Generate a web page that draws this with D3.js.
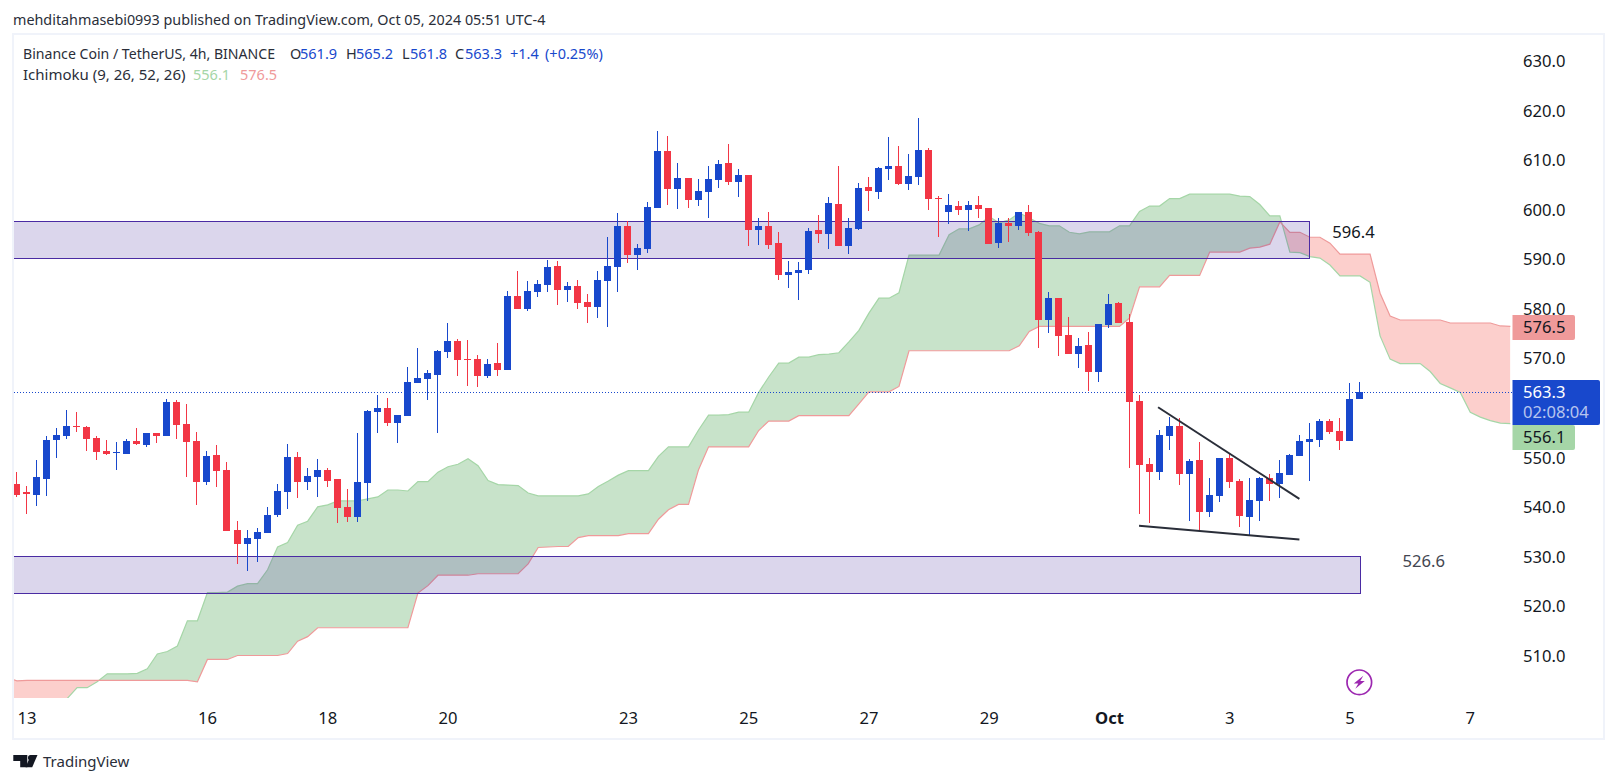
<!DOCTYPE html>
<html><head><meta charset="utf-8">
<script src="https://cdnjs.cloudflare.com/ajax/libs/d3/7.8.5/d3.min.js"></script>
<style>html,body{margin:0;padding:0;background:#fff}svg{display:block}
text{font-family:"Noto Sans",sans-serif}</style></head><body><svg id="c" width="1617" height="783"></svg>
<script>
const open=[544.8,543.0,542.5,545.8,553.6,554.4,556.5,556.3,554.0,551.4,551.1,550.8,553.4,552.6,555.0,554.4,561.3,556.9,553.4,545.2,550.6,547.6,535.5,532.7,533.7,534.9,538.5,543.0,550.2,545.2,546.2,547.6,545.8,540.1,538.1,545.0,559.3,560.1,557.1,558.5,565.1,565.9,566.7,571.4,573.6,570.0,570.0,566.5,569.2,567.7,582.7,580.0,583.5,584.9,588.7,583.9,584.7,581.4,580.4,585.7,588.5,596.8,590.9,592.1,600.4,611.9,604.2,606.5,602.0,603.6,606.1,609.5,605.7,607.1,596.0,596.8,593.3,586.9,587.3,587.9,596.0,595.2,601.2,592.7,596.2,604.6,603.6,608.3,608.9,605.2,606.7,612.1,602.4,599.6,600.8,600.0,601.0,600.4,593.3,597.4,596.8,599.6,595.6,577.8,582.3,574.8,571.0,572.8,567.3,576.8,581.3,577.4,561.5,548.8,547.2,554.4,556.5,546.8,549.6,539.1,542.3,550.0,545.4,538.1,541.3,546.0,544.8,546.6,550.4,553.2,553.6,557.5,555.4,553.4,561.9];
const high=[547.2,544.4,549.6,554.4,556.1,559.7,559.3,556.5,554.4,553.6,553.2,553.8,556.1,555.0,555.0,561.9,561.7,560.9,555.2,551.4,552.6,549.2,537.3,535.5,535.9,540.1,544.8,552.8,551.2,548.0,549.8,548.0,545.8,543.8,555.0,559.7,562.7,562.1,558.7,568.3,572.2,567.7,571.8,577.2,574.0,573.8,570.8,570.0,573.2,583.7,587.7,585.7,585.9,589.9,589.7,585.5,585.9,583.1,587.7,594.6,599.4,597.8,593.2,601.6,615.9,614.9,609.5,606.5,606.3,608.9,610.1,613.3,608.3,607.1,598.4,599.6,595.6,589.7,589.5,596.4,599.0,602.6,608.9,598.4,605.4,606.7,608.7,614.7,612.9,611.3,618.6,612.5,602.8,603.2,601.8,601.8,602.8,600.4,598.4,598.4,599.6,601.0,595.8,583.5,582.3,578.4,574.2,575.4,577.0,583.1,581.5,579.0,562.7,550.0,555.6,558.3,558.1,549.8,553.2,546.0,550.0,550.8,545.8,546.0,546.2,546.8,549.6,550.8,554.6,557.1,557.9,557.9,558.1,565.1,565.2];
const low=[542.1,538.7,540.3,542.3,550.0,553.8,555.2,551.4,549.6,550.6,547.6,550.8,552.6,552.2,553.0,554.4,553.8,546.2,540.5,544.6,544.2,535.3,528.6,527.2,529.0,534.9,538.1,539.7,541.9,543.5,542.1,544.2,536.9,537.1,537.1,541.3,555.0,556.5,553.0,558.5,565.1,561.7,555.0,570.2,566.5,564.5,564.3,566.1,566.5,567.7,580.0,579.6,582.5,583.5,580.8,581.4,580.0,577.2,578.2,576.4,583.5,589.3,587.9,591.3,600.4,601.0,600.2,600.4,600.8,598.4,604.4,605.0,602.6,592.7,592.9,592.1,585.9,584.3,581.9,587.1,593.3,592.1,592.7,591.1,596.0,599.8,602.2,606.1,605.0,604.0,605.0,600.0,594.6,597.2,599.0,595.8,598.4,593.2,592.3,593.6,596.0,594.8,572.2,575.2,570.6,571.0,568.1,563.5,565.3,576.2,577.2,548.0,538.7,536.9,545.6,551.6,544.6,537.3,535.5,538.1,541.1,544.0,536.1,534.5,537.3,541.3,541.9,546.6,550.4,545.4,552.2,554.8,551.6,553.4,561.8];
const close=[542.5,542.7,546.2,553.6,554.6,556.5,556.3,553.8,551.2,550.8,551.2,553.4,552.8,555.0,554.4,561.3,556.7,553.2,545.2,550.4,547.4,535.3,532.7,533.9,535.1,538.5,543.2,550.2,545.2,546.4,547.6,545.4,539.9,538.1,545.2,559.5,560.1,557.1,558.7,565.3,566.1,567.1,571.6,573.6,569.8,569.8,566.5,568.9,567.7,582.7,580.0,583.7,585.1,588.5,583.9,584.7,581.2,580.4,585.9,588.7,596.8,590.9,592.3,600.6,611.9,604.2,606.5,602.0,603.8,606.3,609.3,605.7,607.1,596.0,596.8,592.9,586.9,587.5,587.9,595.8,595.2,601.4,592.7,596.4,604.4,603.8,608.5,608.9,605.2,606.9,612.1,602.2,602.2,601.0,600.0,601.0,600.2,593.2,597.4,596.8,599.6,595.4,577.8,582.3,574.6,571.0,572.6,567.3,577.0,581.0,577.2,561.3,548.6,547.2,554.6,556.5,546.8,549.4,539.1,542.5,550.0,545.2,538.3,541.5,546.0,544.8,547.0,550.6,553.4,553.8,557.5,555.2,553.4,561.9,563.3];

// Ichimoku leading spans, one value per bar, first value is the bar before the first candle
const spanA=[499.0,499.0,499.0,499.5,500.0,500.5,501.4,503.6,503.6,504.8,506.4,506.4,506.4,506.5,507.4,510.4,510.9,512.0,517.1,517.1,522.8,522.8,522.9,524.1,524.6,524.6,527.4,532.0,532.9,536.4,537.2,540.1,540.5,541.3,541.3,541.3,541.7,542.1,543.5,543.5,543.3,545.2,545.2,547.1,548.2,548.7,549.8,548.4,545.4,544.6,544.5,544.4,542.9,542.3,542.3,542.3,542.3,542.3,542.7,544.2,545.3,546.5,547.4,547.4,547.4,550.3,552.2,552.2,552.2,555.6,558.6,558.6,558.7,559.2,559.2,563.2,566.3,569.1,569.1,570.3,570.3,570.8,570.9,571.2,573.4,575.7,579.2,582.2,582.2,583.3,590.9,590.9,590.9,590.9,595.0,596.2,596.2,597.0,598.7,597.4,598.0,599.4,598.4,597.3,596.8,596.8,595.5,595.2,595.6,595.6,595.6,596.8,596.8,599.7,600.8,600.8,602.3,602.3,603.2,603.2,603.2,603.2,603.2,602.8,602.7,601.1,598.8,598.8,591.5,591.4,590.6,590.3,588.9,586.7,586.7,586.7,585.4,574.6,569.9,569.0,569.0,569.0,567.4,565.0,564.1,563.2,559.2,558.2,557.5,557.0,556.9];
const spanB=[505.6,505.0,505.1,505.1,505.1,505.1,505.1,505.1,505.1,505.1,505.1,505.1,505.1,505.1,505.1,505.1,505.1,505.1,505.1,504.8,509.3,509.3,509.3,510.1,510.1,510.1,510.1,510.1,510.5,513.0,513.9,515.7,515.7,515.7,515.7,515.7,515.7,515.7,515.7,515.7,515.7,522.7,524.2,526.3,526.3,526.3,526.3,526.6,526.6,526.6,526.6,526.6,528.6,531.9,532.0,532.1,532.1,533.9,534.3,534.3,534.3,534.3,534.7,534.7,534.7,537.6,539.5,540.6,540.6,547.6,552.2,552.2,552.2,552.2,552.2,555.5,557.4,557.4,557.4,558.5,558.5,558.5,558.5,558.5,558.5,560.9,563.3,563.3,563.3,564.4,571.6,571.6,571.6,571.6,571.6,571.6,571.6,571.6,571.6,571.6,571.6,572.6,575.5,576.5,576.5,576.5,576.5,576.5,576.5,576.5,576.5,576.5,578.2,584.5,584.5,584.5,586.8,586.8,586.8,586.8,591.5,591.5,591.5,591.5,592.3,592.5,593.1,597.6,595.5,595.5,594.5,594.5,593.3,591.1,591.1,591.1,591.1,583.2,578.6,577.8,577.8,577.8,577.8,577.8,577.2,577.2,577.2,577.2,577.2,576.6,576.5];
const firstSpanBar=-1;

const priceTicks=[510,520,530,540,550,570,580,590,600,610,620,630];
const timeBars=[1,19,31,43,61,73,85,97,109,121,133,145];
const timeLabels=["13","16","18","20","23","25","27","29","Oct","3","5","7"];
const zones=[{from:-2,to:129,hi:597.8,lo:590.4},{from:-2,to:134,hi:530.2,lo:522.8}];
const trendLines=[[[113.9,560.2],[128,541.7]],[[112,536.3],[128,533.5]]];
const notes=[{bar:133.4,price:595.5,text:"596.4",fill:"#131722"},{bar:140.4,price:529.1,text:"526.6",fill:"#434651"}];
const lastPrice=563.3, spanALast=556.1, spanBLast=576.5;

const BLUE="#1848cc",RED="#f23645",GRN="#a5d6a7",PNK="#ef9a9a",INK="#131722";
const FONT='"Noto Sans",sans-serif';
const AX=16.6;
const svg=d3.select("#c");
const paneR=1512,paneT=35,paneB=698,paneL=14;
const x=d3.scaleLinear().domain([0,134]).range([16.51,1359.53]);
const y=d3.scaleLinear().domain([600,510]).range([210,656]);

const defs=svg.append("defs");
defs.append("clipPath").attr("id","pane").append("rect").attr("x",paneL).attr("y",paneT).attr("width",paneR-paneL).attr("height",paneB-paneT);
const cloud=spanA.map((a,k)=>({bar:k+firstSpanBar,a,b:spanB[k]}));
const X=d=>x(d.bar)+.5;
defs.append("clipPath").attr("id","aboveB").append("path").attr("d",d3.area().x(X).y0(0).y1(d=>y(d.b))(cloud));
defs.append("clipPath").attr("id","belowB").append("path").attr("d",d3.area().x(X).y0(783).y1(d=>y(d.b))(cloud));

// frame
svg.append("rect").attr("x",13).attr("y",34).attr("width",1591).attr("height",705).attr("fill","none").attr("stroke","#f0f3fa").attr("stroke-width",2);

const pane=svg.append("g").attr("clip-path","url(#pane)");
const between=d3.area().x(X).y0(d=>y(d.a)).y1(d=>y(d.b));
pane.append("g").attr("clip-path","url(#aboveB)").append("path").attr("d",between(cloud)).attr("fill","#c8e3ca");
pane.append("g").attr("clip-path","url(#belowB)").append("path").attr("d",between(cloud)).attr("fill","#fccfcc");
pane.append("path").attr("d",d3.line().x(X).y(d=>y(d.a))(cloud)).attr("fill","none").attr("stroke",GRN).attr("stroke-width",1.2);
pane.append("path").attr("d",d3.line().x(X).y(d=>y(d.b))(cloud)).attr("fill","none").attr("stroke",PNK).attr("stroke-width",1.2);

// zones
pane.selectAll("rect.zone").data(zones).join("rect").attr("class","zone")
 .attr("x",d=>x(d.from)).attr("width",d=>Math.round(x(d.to))-x(d.from)+.5)
 .attr("y",d=>Math.round(y(d.hi))+.5).attr("height",d=>Math.round(y(d.lo))-Math.round(y(d.hi)))
 .attr("fill","rgba(75,50,160,.2)").attr("stroke","#4a2ba3").attr("stroke-width",1);

// last price line
pane.append("line").attr("x1",paneL).attr("x2",paneR).attr("y1",Math.round(y(lastPrice))+.5).attr("y2",Math.round(y(lastPrice))+.5)
 .attr("stroke",BLUE).attr("stroke-dasharray","1 2");

// candles
const bars=d3.range(open.length);
const col=i=>close[i]>=open[i]?BLUE:RED;
const gc=pane.append("g").attr("shape-rendering","crispEdges");
gc.selectAll("rect.w").data(bars).join("rect").attr("class","w")
 .attr("x",i=>Math.floor(x(i))).attr("width",1)
 .attr("y",i=>Math.round(y(high[i]))).attr("height",i=>Math.max(1,Math.round(y(low[i]))-Math.round(y(high[i]))))
 .attr("fill",col);
gc.selectAll("rect.b").data(bars).join("rect").attr("class","b")
 .attr("x",i=>Math.floor(x(i))-3).attr("width",7)
 .attr("y",i=>Math.round(y(Math.max(open[i],close[i]))))
 .attr("height",i=>Math.max(1,Math.round(y(Math.min(open[i],close[i])))-Math.round(y(Math.max(open[i],close[i])))))
 .attr("fill",col);

// trend lines
pane.selectAll("path.t").data(trendLines).join("path").attr("class","t")
 .attr("d",d3.line().x(d=>x(d[0])).y(d=>y(d[1]))).attr("stroke","#2a2e39").attr("stroke-width",2).attr("fill","none");

// notes
svg.selectAll("text.n").data(notes).join("text").attr("class","n")
 .attr("x",d=>x(d.bar)).attr("y",d=>y(d.price)).attr("text-anchor","middle").attr("dy",".36em")
 .attr("font-size",AX).attr("fill",d=>d.fill).text(d=>d.text);

// axes
const ax=svg.append("g").attr("transform","translate(1523,0)").call(d3.axisRight(y).tickValues(priceTicks).tickSize(0).tickPadding(0).tickFormat(d3.format(".1f")));
ax.select(".domain").remove();
ax.selectAll("text").attr("font-size",AX).attr("font-family",FONT).attr("fill",INK);
const tx=svg.append("g").attr("transform","translate(0,712.5)").call(d3.axisBottom(x).tickValues(timeBars).tickSize(0).tickPadding(0).tickFormat((d,k)=>timeLabels[k]));
tx.select(".domain").remove();
tx.selectAll("text").attr("font-size",AX).attr("font-family",FONT).attr("fill",INK).attr("font-weight",(d,k)=>timeLabels[k]==="Oct"?700:400);

// price labels
function tag(yTop,h,w,fill){return svg.append("path").attr("fill",fill).attr("d",`M1512.5 ${yTop}H${1512.5+w-2}q2 0 2 2V${yTop+h-2}q0 2 -2 2H1512.5Z`);}
tag(315,25,62.5,PNK);
tag(425,25,62.5,GRN);
tag(380,45,87.5,BLUE);
function lab(t,yc,fill,x0=1523,op=1){svg.append("text").attr("x",x0).attr("y",yc).attr("dy",".36em").attr("font-size",AX).attr("fill",fill).attr("fill-opacity",op).text(t);}
lab(d3.format(".1f")(spanBLast),327.5,INK);
lab(d3.format(".1f")(lastPrice),392.5,"#fff");
lab("02:08:04",412.5,"#fff",1523,.7);
lab(d3.format(".1f")(spanALast),437.5,INK);

// header + legend
function t(s,xp,yc,fill,size=14.5){svg.append("text").attr("x",xp).attr("y",yc).attr("dy",".36em").attr("font-size",size).attr("fill",fill).text(s);}
t("mehditahmasebi0993 published on TradingView.com, Oct 05, 2024 05:51 UTC-4",13,19.5,"#2a2e39",14.35);
t("Binance Coin / TetherUS, 4h, BINANCE",23,54,"#2a2e39",14.1);
[["O",290,"#2a2e39"],["561.9",300,BLUE],["H",346,"#2a2e39"],["565.2",356,BLUE],["L",402,"#2a2e39"],["561.8",410,BLUE],["C",455,"#2a2e39"],["563.3",465,BLUE],["+1.4",510,BLUE],["(+0.25%)",545,BLUE]]
 .forEach(a=>t(a[0],a[1],54,a[2]));
t("Ichimoku (9, 26, 52, 26)",23,75,"#2a2e39",15);
t("556.1",193,75,GRN);
t("576.5",240,75,PNK);

// lightning badge
const bolt=svg.append("g").attr("transform","translate(1359.3,682.3)");
bolt.append("circle").attr("r",12.3).attr("fill","#fff").attr("stroke","#9c27b0").attr("stroke-width",1.7);
bolt.append("path").attr("d","M4 -6.5L-5.5 1.2H-1L-4 6.5L5.5 -1.2H1Z").attr("fill","#9c27b0");

// TradingView logo
const logo=svg.append("g").attr("fill","#131722");
logo.append("path").attr("d","M13.3 755H27.3V767.2H20.2V761H13.3Z");
logo.append("circle").attr("cx",30.6).attr("cy",757.7).attr("r",2.6);
logo.append("path").attr("d","M37.5 755L32.2 767.2H25.6L30.8 755Z");
t("TradingView",43,762,"#2a2e39",15);
</script></body></html>
